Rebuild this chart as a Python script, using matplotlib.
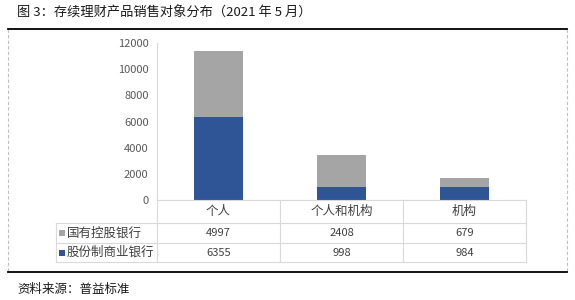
import matplotlib
matplotlib.use('Agg')
import matplotlib.pyplot as plt
from matplotlib.patches import Rectangle
from matplotlib.lines import Line2D

plt.rcParams['font.family'] = ['Noto Sans CJK SC', 'DejaVu Sans']

# ─── Data ─────────────────────────────────────────────────────────────────────
categories = ['个人', '个人和机构', '机构']
series_names = ['国有控股银行', '股份制商业银行']
state_banks = [4997, 2408, 679]
joint_banks = [6355, 998, 984]

GREY = '#A5A5A5'
BLUE = '#2F5597'
LINE = '#D9D9D9'
TXT = '#404040'

W, H = 575, 300
fig = plt.figure(figsize=(W / 100, H / 100), dpi=100)


def fx(x):
    return x / W


def fy(y):
    return 1 - y / H


def hline(y, x0, x1, color=LINE, lw=0.8, ls='-'):
    fig.add_artist(Line2D([fx(x0), fx(x1)], [fy(y), fy(y)], color=color, lw=lw, ls=ls))


def vline(x, y0, y1, color=LINE, lw=0.8, ls='-'):
    fig.add_artist(Line2D([fx(x), fx(x)], [fy(y0), fy(y1)], color=color, lw=lw, ls=ls))


# ─── Frame ────────────────────────────────────────────────────────────────────
fig.text(fx(17), fy(13), '图 3：存续理财产品销售对象分布（2021 年 5 月）',
         fontsize=9.5, color='#1a1a1a', va='center', ha='left')
vline(8, 29, 272, color='#BFBFBF', lw=0.8, ls=(0, (3, 2)))
vline(567, 29, 272, color='#BFBFBF', lw=0.8, ls=(0, (3, 2)))
hline(28.5, 8, 567, color='black', lw=1.3)
hline(272, 8, 567, color='black', lw=1.3)
fig.text(fx(17), fy(289), '资料来源：普益标准', fontsize=9, color='#1a1a1a',
         va='center', ha='left')

# ─── Chart ────────────────────────────────────────────────────────────────────
L, R, T, B = 157, 526, 43, 200
ax = fig.add_axes([fx(L), fy(B), fx(R - L), (B - T) / H])
xs = range(len(categories))
ax.bar(xs, joint_banks, width=0.4, color=BLUE, zorder=2)
ax.bar(xs, state_banks, width=0.4, bottom=joint_banks, color=GREY, zorder=2)
ax.set_xlim(-0.5, len(categories) - 0.5)
ax.set_ylim(0, 12000)
ax.set_yticks(range(0, 12001, 2000))
ax.tick_params(axis='y', length=0, labelsize=8, labelcolor='#595959', pad=6)
ax.set_xticks([])
for s in ('top', 'right', 'bottom'):
    ax.spines[s].set_visible(False)
ax.spines['left'].set_color(LINE)
ax.spines['left'].set_linewidth(0.8)
ax.patch.set_alpha(0)

# ─── Data table ───────────────────────────────────────────────────────────────
col_edges = [157, 280, 403, 526]
row_edges = [200, 223, 243, 262]
hline(row_edges[0], col_edges[0], col_edges[-1])
for y in row_edges[1:]:
    hline(y, 56, col_edges[-1])
for x in col_edges:
    vline(x, row_edges[0], row_edges[-1])
vline(56, row_edges[1], row_edges[-1])

for i, c in enumerate(categories):
    cx = (col_edges[i] + col_edges[i + 1]) / 2
    fig.text(fx(cx), fy((row_edges[0] + row_edges[1]) / 2), c, fontsize=9,
             color=TXT, ha='center', va='center')
    for r, vals in enumerate([state_banks, joint_banks]):
        cy = (row_edges[r + 1] + row_edges[r + 2]) / 2
        fig.text(fx(cx), fy(cy), str(vals[i]), fontsize=8,
                 color=TXT, ha='center', va='center')

for r, (name, col) in enumerate(zip(series_names, [GREY, BLUE])):
    cy = (row_edges[r + 1] + row_edges[r + 2]) / 2
    fig.add_artist(Rectangle((fx(59), fy(cy + 3)), fx(6), 6 / H,
                             facecolor=col, edgecolor='none'))
    fig.text(fx(67), fy(cy), name, fontsize=9, color=TXT,
             ha='left', va='center')

fig.savefig('out.png', dpi=100, facecolor='white')
